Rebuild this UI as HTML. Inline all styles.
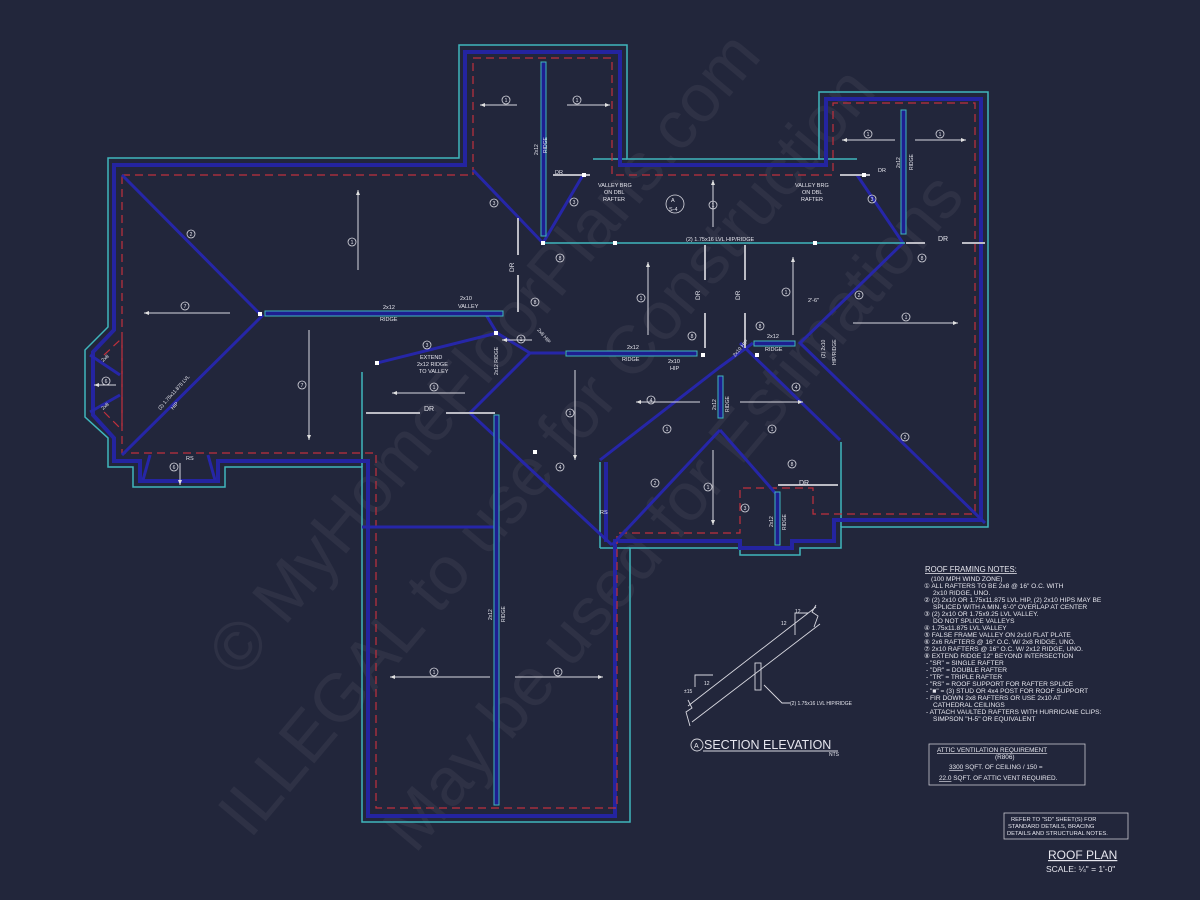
<!DOCTYPE html>
<html><head><meta charset="utf-8"><style>
html,body{margin:0;padding:0;background:#22263b;}
svg{display:block}
text{font-family:"Liberation Sans",sans-serif;fill:#e6e6ee}
</style></head><body>
<svg width="1200" height="900" viewBox="0 0 1200 900" xmlns="http://www.w3.org/2000/svg">
<defs>
<marker id="ah" markerWidth="6" markerHeight="6" refX="5" refY="3" orient="auto"><path d="M0,1 L5,3 L0,5 z" fill="#e0e0e0"/></marker>
</defs>
<rect width="1200" height="900" fill="#22263b"/>

<!-- watermark -->
<g font-family="Liberation Serif,serif" font-size="68">
<text transform="translate(240,680) rotate(-50)" style="fill:rgba(255,255,255,0.055)">© MyHomeFloorPlans.com</text>
<text transform="translate(250,840) rotate(-50)" style="fill:rgba(255,255,255,0.055)">ILLEGAL to use for Construction</text>
<text transform="translate(415,855) rotate(-50)" style="fill:rgba(255,255,255,0.055)">May be used for Estimations</text>
</g>

<!-- outer cyan outline -->
<g fill="none" stroke="#3fb6bd" stroke-width="1.5">
<path d="M108,158 H459 V45 H627 V159 H819 V92 H988 V527 H841 V548 H800 V555 H740 V548 H630 V822 H362 V467 H225 V487 H133 V467 H108 V438 L85,417 V350 L108,327 Z"/>
<path d="M593,159 H627 M819,159 H857"/>
<path d="M600,548 V462 M600,548 H630 M841,442 V527"/>
<path d="M362,372 V467"/>
</g>
<!-- inner blue thick outline -->
<g fill="none" stroke="#2424a0" stroke-width="4">
<path d="M114,165 H465 V52 H620 V165 H826 V99 H981 V520 H834 V541 H792 V548 H740 V541 H615 V816 H368 V461 H218 V481 H140 V461 H114 V438 L93,415 V352 L114,330 Z"/>
<path d="M606,542 V462"/>
</g>
<!-- red dashed -->
<g fill="none" stroke="#c0303c" stroke-width="1.2" stroke-dasharray="8,5">
<path d="M122,175 H473 V58 H612 V175 H833 V103 H975 V514 H813 V488 H740 V533 H617 V808 H376 V453 H122 Z"/>
<path d="M104,355 L120,340 M104,412 L120,428 M122,340 V430"/>
</g>

<!-- hips / valleys -->
<g stroke="#2626a8" stroke-width="3" fill="none">
<path d="M122,175 L262,316 L122,455"/>
<path d="M473,170 L543,243 L583,175"/>
<path d="M857,175 L903,243 L800,343 L985,523"/>
<path d="M497,333 L485,313 M497,333 L530,353 L470,413 L612,545"/>
<path d="M530,353 L565,353"/>
<path d="M377,363 L497,333"/>
<path d="M720,367 L600,460 M720,367 L753,343 M740,343 L840,440"/>
<path d="M720,430 L612,545 M720,430 L777,495"/>
<path d="M90,355 L120,375 M90,412 L120,395 M150,455 L143,480 M208,455 L215,480"/>
<path d="M362,527 H496"/>
</g>

<!-- ridges -->
<g fill="#1e1e90" stroke="#3fb6bd" stroke-width="1">
<rect x="265" y="311" width="238" height="5"/>
<rect x="541" y="62" width="5" height="174"/>
<rect x="901" y="110" width="5" height="124"/>
<rect x="566" y="351" width="131" height="5"/>
<rect x="754" y="341" width="41" height="5"/>
<rect x="718" y="376" width="5" height="42"/>
<rect x="775" y="492" width="5" height="53"/>
<rect x="494" y="415" width="5" height="390"/>
</g>
<line x1="543" y1="243" x2="905" y2="243" stroke="#3fb6bd" stroke-width="1.5"/>

<!-- DR dashes -->
<g stroke="#bbbbc4" stroke-width="2" fill="none">
<path d="M906,243 H925 M962,243 H985"/>
<path d="M518,218 V255 M518,275 V312"/>
<path d="M705,245 V280 M705,313 V348 M745,245 V280 M745,313 V348"/>
<path d="M366,413 H420 M446,413 H495"/>
<path d="M553,175 H590 M840,175 H870"/>
<path d="M778,485 H838"/>
</g>

<!-- dots -->
<g fill="#ffffff">
<rect x="258" y="312" width="4" height="4"/><rect x="541" y="241" width="4" height="4"/>
<rect x="613" y="241" width="4" height="4"/><rect x="813" y="241" width="4" height="4"/>
<rect x="494" y="331" width="4" height="4"/><rect x="375" y="361" width="4" height="4"/>
<rect x="701" y="353" width="4" height="4"/><rect x="755" y="353" width="4" height="4"/>
<rect x="533" y="450" width="4" height="4"/><rect x="582" y="173" width="4" height="4"/>
<rect x="862" y="173" width="4" height="4"/>
</g>

<!-- arrows -->
<g stroke="#d8d8e0" stroke-width="1" marker-end="url(#ah)">
<line x1="517" y1="105" x2="480" y2="105"/><line x1="567" y1="105" x2="610" y2="105"/>
<line x1="358" y1="270" x2="358" y2="190"/>
<line x1="230" y1="313" x2="144" y2="313"/>
<line x1="309" y1="330" x2="309" y2="440"/>
<line x1="465" y1="393" x2="392" y2="393"/>
<line x1="532" y1="340" x2="502" y2="340"/>
<line x1="575" y1="370" x2="575" y2="460"/>
<line x1="713" y1="227" x2="713" y2="180"/>
<line x1="648" y1="335" x2="648" y2="262"/>
<line x1="793" y1="335" x2="793" y2="257"/>
<line x1="700" y1="402" x2="636" y2="402"/>
<line x1="740" y1="402" x2="803" y2="402"/>
<line x1="713" y1="450" x2="713" y2="525"/>
<line x1="895" y1="140" x2="842" y2="140"/><line x1="915" y1="140" x2="966" y2="140"/>
<line x1="853" y1="323" x2="958" y2="323"/>
<line x1="116" y1="385" x2="94" y2="385"/>
<line x1="180" y1="463" x2="180" y2="485"/>
<line x1="490" y1="677" x2="390" y2="677"/><line x1="515" y1="677" x2="603" y2="677"/>
</g>

<!-- circle labels -->
<g fill="none" stroke="#d8d8e0" stroke-width="0.8">
<circle cx="506" cy="100" r="4"/><circle cx="577" cy="100" r="4"/><circle cx="352" cy="242" r="4"/>
<circle cx="191" cy="234" r="4"/><circle cx="185" cy="306" r="4"/><circle cx="302" cy="385" r="4"/>
<circle cx="494" cy="203" r="4"/><circle cx="574" cy="202" r="4"/><circle cx="560" cy="258" r="4"/>
<circle cx="535" cy="302" r="4"/><circle cx="427" cy="345" r="4"/><circle cx="521" cy="339" r="4"/>
<circle cx="434" cy="387" r="4"/><circle cx="570" cy="413" r="4"/><circle cx="560" cy="467" r="4"/>
<circle cx="713" cy="205" r="4"/><circle cx="641" cy="298" r="4"/><circle cx="786" cy="292" r="4"/>
<circle cx="868" cy="134" r="4"/><circle cx="940" cy="134" r="4"/><circle cx="872" cy="199" r="4"/>
<circle cx="922" cy="258" r="4"/><circle cx="859" cy="295" r="4"/><circle cx="906" cy="317" r="4"/>
<circle cx="796" cy="387" r="4"/><circle cx="905" cy="437" r="4"/><circle cx="651" cy="400" r="4"/>
<circle cx="667" cy="429" r="4"/><circle cx="772" cy="429" r="4"/><circle cx="655" cy="483" r="4"/>
<circle cx="708" cy="487" r="4"/><circle cx="745" cy="508" r="4"/><circle cx="792" cy="464" r="4"/>
<circle cx="692" cy="336" r="4"/><circle cx="760" cy="326" r="4"/><circle cx="106" cy="381" r="4"/>
<circle cx="174" cy="467" r="4"/><circle cx="434" cy="672" r="4"/><circle cx="558" cy="672" r="4"/>
<circle cx="675" cy="204" r="9"/>
</g>
<g font-size="5" text-anchor="middle">
<text x="506" y="102">1</text><text x="577" y="102">1</text><text x="352" y="244">1</text>
<text x="191" y="236">2</text><text x="185" y="308">7</text><text x="302" y="387">7</text>
<text x="494" y="205">3</text><text x="574" y="204">3</text><text x="560" y="260">8</text>
<text x="535" y="304">8</text><text x="427" y="347">3</text><text x="521" y="341">1</text>
<text x="434" y="389">1</text><text x="570" y="415">1</text><text x="560" y="469">4</text>
<text x="713" y="207">1</text><text x="641" y="300">1</text><text x="786" y="294">1</text>
<text x="868" y="136">1</text><text x="940" y="136">1</text><text x="872" y="201">3</text>
<text x="922" y="260">8</text><text x="859" y="297">2</text><text x="906" y="319">1</text>
<text x="796" y="389">4</text><text x="905" y="439">2</text><text x="651" y="402">4</text>
<text x="667" y="431">1</text><text x="772" y="431">1</text><text x="655" y="485">2</text>
<text x="708" y="489">1</text><text x="745" y="510">3</text><text x="792" y="466">8</text>
<text x="692" y="338">8</text><text x="760" y="328">8</text><text x="106" y="383">6</text>
<text x="174" y="469">6</text><text x="434" y="674">1</text><text x="558" y="674">1</text>
</g>

<!-- labels -->
<g font-size="5.5">
<text x="555" y="174">DR</text>
<text x="598" y="187">VALLEY BRG</text><text x="604" y="194">ON DBL</text><text x="603" y="201">RAFTER</text>
<text x="795" y="187">VALLEY BRG</text><text x="802" y="194">ON DBL</text><text x="801" y="201">RAFTER</text>
<text x="671" y="202">A</text><text x="669" y="211">S-4</text>
<text x="686" y="241">(2) 1.75x16 LVL HIP/RIDGE</text>
<text x="878" y="172">DR</text><text x="938" y="241" font-size="7">DR</text>
<text x="383" y="309">2x12</text><text x="380" y="321">RIDGE</text>
<text x="460" y="300">2x10</text><text x="458" y="308">VALLEY</text>
<text x="420" y="359">EXTEND</text><text x="417" y="366">2x12 RIDGE</text><text x="419" y="373">TO VALLEY</text>
<text x="424" y="411" font-size="7">DR</text>
<text x="627" y="349">2x12</text><text x="622" y="361">RIDGE</text>
<text x="668" y="363">2x10</text><text x="670" y="370">HIP</text>
<text x="767" y="338">2x12</text><text x="765" y="351">RIDGE</text>
<text x="808" y="302">2'-6"</text>
<text x="799" y="485" font-size="7">DR</text>
<text x="600" y="514">RS</text><text x="186" y="460">RS</text>
</g>

<!-- notes -->
<g font-size="6.6">
<text x="925" y="572" font-size="7.8" text-decoration="underline">ROOF FRAMING NOTES:</text>
<text x="931" y="581">(100 MPH WIND ZONE)</text>
<text x="924" y="588">①  ALL RAFTERS TO BE 2x8 @ 16" O.C. WITH</text>
<text x="933" y="595">2x10 RIDGE, UNO.</text>
<text x="924" y="602">②  (2) 2x10 OR 1.75x11.875 LVL HIP, (2) 2x10 HIPS MAY BE</text>
<text x="933" y="609">SPLICED WITH A MIN. 6'-0" OVERLAP AT CENTER</text>
<text x="924" y="616">③  (2) 2x10 OR 1.75x9.25 LVL VALLEY.</text>
<text x="933" y="623">DO NOT SPLICE VALLEYS</text>
<text x="924" y="630">④  1.75x11.875 LVL VALLEY</text>
<text x="924" y="637">⑤  FALSE FRAME VALLEY ON 2x10 FLAT PLATE</text>
<text x="924" y="644">⑥  2x6 RAFTERS @ 16" O.C. W/ 2x8 RIDGE, UNO.</text>
<text x="924" y="651">⑦  2x10 RAFTERS @ 16" O.C. W/ 2x12 RIDGE, UNO.</text>
<text x="924" y="658">⑧  EXTEND RIDGE 12" BEYOND INTERSECTION</text>
<text x="926" y="665">-  "SR" = SINGLE RAFTER</text>
<text x="926" y="672">-  "DR" = DOUBLE RAFTER</text>
<text x="926" y="679">-  "TR" = TRIPLE RAFTER</text>
<text x="926" y="686">-  "RS" = ROOF SUPPORT FOR RAFTER SPLICE</text>
<text x="926" y="693">-  "■"  = (3) STUD OR 4x4 POST FOR ROOF SUPPORT</text>
<text x="926" y="700">-  FIR DOWN 2x8 RAFTERS OR USE 2x10 AT</text>
<text x="933" y="707">CATHEDRAL CEILINGS</text>
<text x="926" y="714">-  ATTACH VAULTED RAFTERS WITH HURRICANE CLIPS:</text>
<text x="933" y="721">SIMPSON "H-5" OR EQUIVALENT</text>
</g>
<rect x="929" y="744" width="156" height="41" fill="none" stroke="#c8c8d0" stroke-width="0.8"/>
<g font-size="6.4">
<text x="937" y="752" text-decoration="underline">ATTIC VENTILATION REQUIREMENT</text>
<text x="995" y="759">(R806)</text>
<text x="949" y="769"><tspan text-decoration="underline">3300</tspan>  SQFT. OF CEILING / 150 =</text>
<text x="939" y="780"><tspan text-decoration="underline">22.0</tspan>  SQFT. OF ATTIC VENT REQUIRED.</text>
</g>
<rect x="1004" y="813" width="124" height="26" fill="none" stroke="#c8c8d0" stroke-width="0.8"/>
<g font-size="5.8">
<text x="1011" y="821">REFER TO "SD" SHEET(S) FOR</text>
<text x="1008" y="828">STANDARD DETAILS, BRACING</text>
<text x="1007" y="835">DETAILS AND STRUCTURAL NOTES.</text>
</g>
<text x="1048" y="859" font-size="12" text-decoration="underline">ROOF PLAN</text>
<text x="1046" y="872" font-size="8.5">SCALE: ¼" = 1'-0"</text>

<!-- section elevation -->
<g stroke="#d8d8e0" stroke-width="0.9" fill="none">
<path d="M688,706 L816,607 M692,722 L820,624"/>
<path d="M816,605 L812,612 L818,616 L814,627"/>
<path d="M688,700 L692,708 L686,712 L690,726"/>
<rect x="755" y="663" width="6" height="27"/>
<path d="M695,687 V675 H713"/>
<path d="M795,635 V613 H808"/>
<path d="M764,685 L782,703 H790"/>
<circle cx="697" cy="745" r="6"/>
<path d="M703,751 H838"/>
</g>
<g font-size="5">
<text x="684" y="693">±15</text><text x="704" y="685">12</text>
<text x="781" y="625">12</text><text x="795" y="613">12</text>
<text x="790" y="705">(2) 1.75x16 LVL HIP/RIDGE</text>
<text x="829" y="756">NTS</text>
</g>
<text x="694" y="748" font-size="7">A</text>
<text x="704" y="749" font-size="12.5">SECTION ELEVATION</text>

<!-- small rotated labels -->
<g font-size="5">
<text transform="translate(538,155) rotate(-90)">2x12</text>
<text transform="translate(547,153) rotate(-90)">RIDGE</text>
<text transform="translate(160,410) rotate(-48)">(2) 1.75x11.875 LVL</text>
<text transform="translate(173,410) rotate(-48)">HIP</text>
<text transform="translate(537,330) rotate(50)">2x8 HIP</text>
<text transform="translate(498,375) rotate(-90)">2x12 RIDGE</text>
<text transform="translate(735,357) rotate(-50)">2x10 HIP</text>
<text transform="translate(716,410) rotate(-90)">2x12</text>
<text transform="translate(729,412) rotate(-90)">RIDGE</text>
<text transform="translate(773,527) rotate(-90)">2x12</text>
<text transform="translate(786,530) rotate(-90)">RIDGE</text>
<text transform="translate(492,620) rotate(-90)">2x12</text>
<text transform="translate(505,622) rotate(-90)">RIDGE</text>
<text transform="translate(900,168) rotate(-90)">2x12</text>
<text transform="translate(913,170) rotate(-90)">RIDGE</text>
<text transform="translate(825,358) rotate(-90)">(2) 2x10</text>
<text transform="translate(836,365) rotate(-90)">HIP/RIDGE</text>
<text transform="translate(700,300) rotate(-90)" font-size="6.5">DR</text>
<text transform="translate(740,300) rotate(-90)" font-size="6.5">DR</text>
<text transform="translate(514,272) rotate(-90)" font-size="6.5">DR</text>
<text transform="translate(103,362) rotate(-40)">2x8</text>
<text transform="translate(103,410) rotate(-40)">2x8</text>
</g>
</svg>
</body></html>
